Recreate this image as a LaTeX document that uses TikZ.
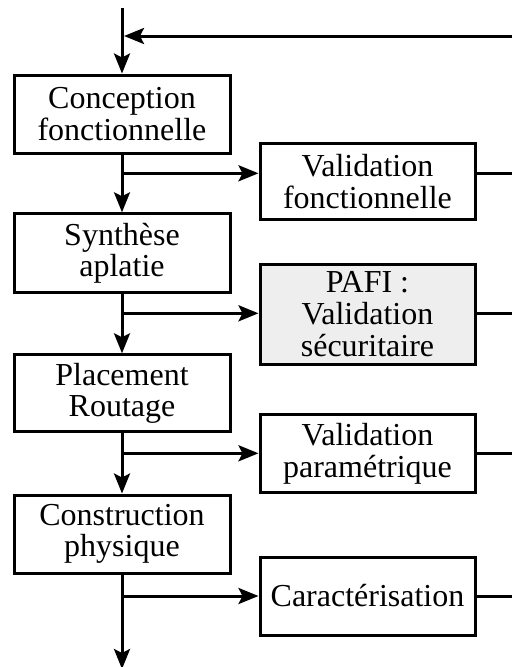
\documentclass[tikz,border=0pt]{standalone}
\usepackage{fontspec}
\setmainfont{Liberation Serif}
\usetikzlibrary{arrows.meta}
\begin{document}
\begin{tikzpicture}[x=1pt,y=-1pt,
  box/.style={draw, line width=3pt, inner sep=0pt, align=center,
    font=\fontsize{32}{31.6}\selectfont},
  stage/.style={box, minimum width=216pt, minimum height=78pt},
  check/.style={box, minimum width=215pt},
  flow/.style={line width=3pt, -{Stealth[length=20pt,width=16pt,inset=4pt]}},
  link/.style={line width=3pt}]
\useasboundingbox (0,0) rectangle (512,667);

% design stages (left column)
\node[stage] (cf) at (122,114) {Conception\\fonctionnelle};
\node[stage, minimum height=79pt] (sa) at (122,253.3) {Synth\`ese\\aplatie};
\node[stage, minimum height=77pt] (pr) at (122,393.3) {Placement\\Routage};
\node[stage] (cp) at (122,534) {Construction\\physique};

% validation steps (right column)
\node[check, minimum height=76pt] (vf) at (367.5,181.3) {Validation\\fonctionnelle};
\node[check, minimum height=100pt, fill={rgb,255:red,238;green,238;blue,238}] (pafi) at (367.5,314) {PAFI :\\Validation\\s\'ecuritaire};
\node[check, minimum height=78pt] (vp) at (367.5,453.5) {Validation\\param\'etrique};
\node[check, minimum height=78pt] (ca) at (367.5,596) {Caract\'erisation};

% branch points on the main flow and return points on the right edge
\coordinate (in) at (122,8);
\coordinate (out) at (122,669);
\coordinate (fbR) at (512,36);
\coordinate (fbL) at (124,36);
\coordinate (b1) at (122,173.3);
\coordinate (b2) at (122,313.3);
\coordinate (b3) at (122,453.3);
\coordinate (b4) at (122,596);
\coordinate (r1) at (512,173.3);
\coordinate (r2) at (512,313.3);
\coordinate (r3) at (512,453.3);
\coordinate (r4) at (512,596);

% main flow
\draw[flow] (in) -- (cf);
\draw[flow] (cf) -- (sa);
\draw[flow] (sa) -- (pr);
\draw[flow] (pr) -- (cp);
\draw[flow] (cp) -- (out);

% feedback
\draw[flow] (fbR) -- (fbL);

% branches to validation steps
\draw[flow] (b1) -- (b1 -| vf.west);
\draw[flow] (b2) -- (b2 -| pafi.west);
\draw[flow] (b3) -- (b3 -| vp.west);
\draw[flow] (b4) -- (b4 -| ca.west);

% returns from validation steps
\draw[link] (r1 -| vf.east) -- (r1);
\draw[link] (r2 -| pafi.east) -- (r2);
\draw[link] (r3 -| vp.east) -- (r3);
\draw[link] (r4 -| ca.east) -- (r4);
\end{tikzpicture}
\end{document}
